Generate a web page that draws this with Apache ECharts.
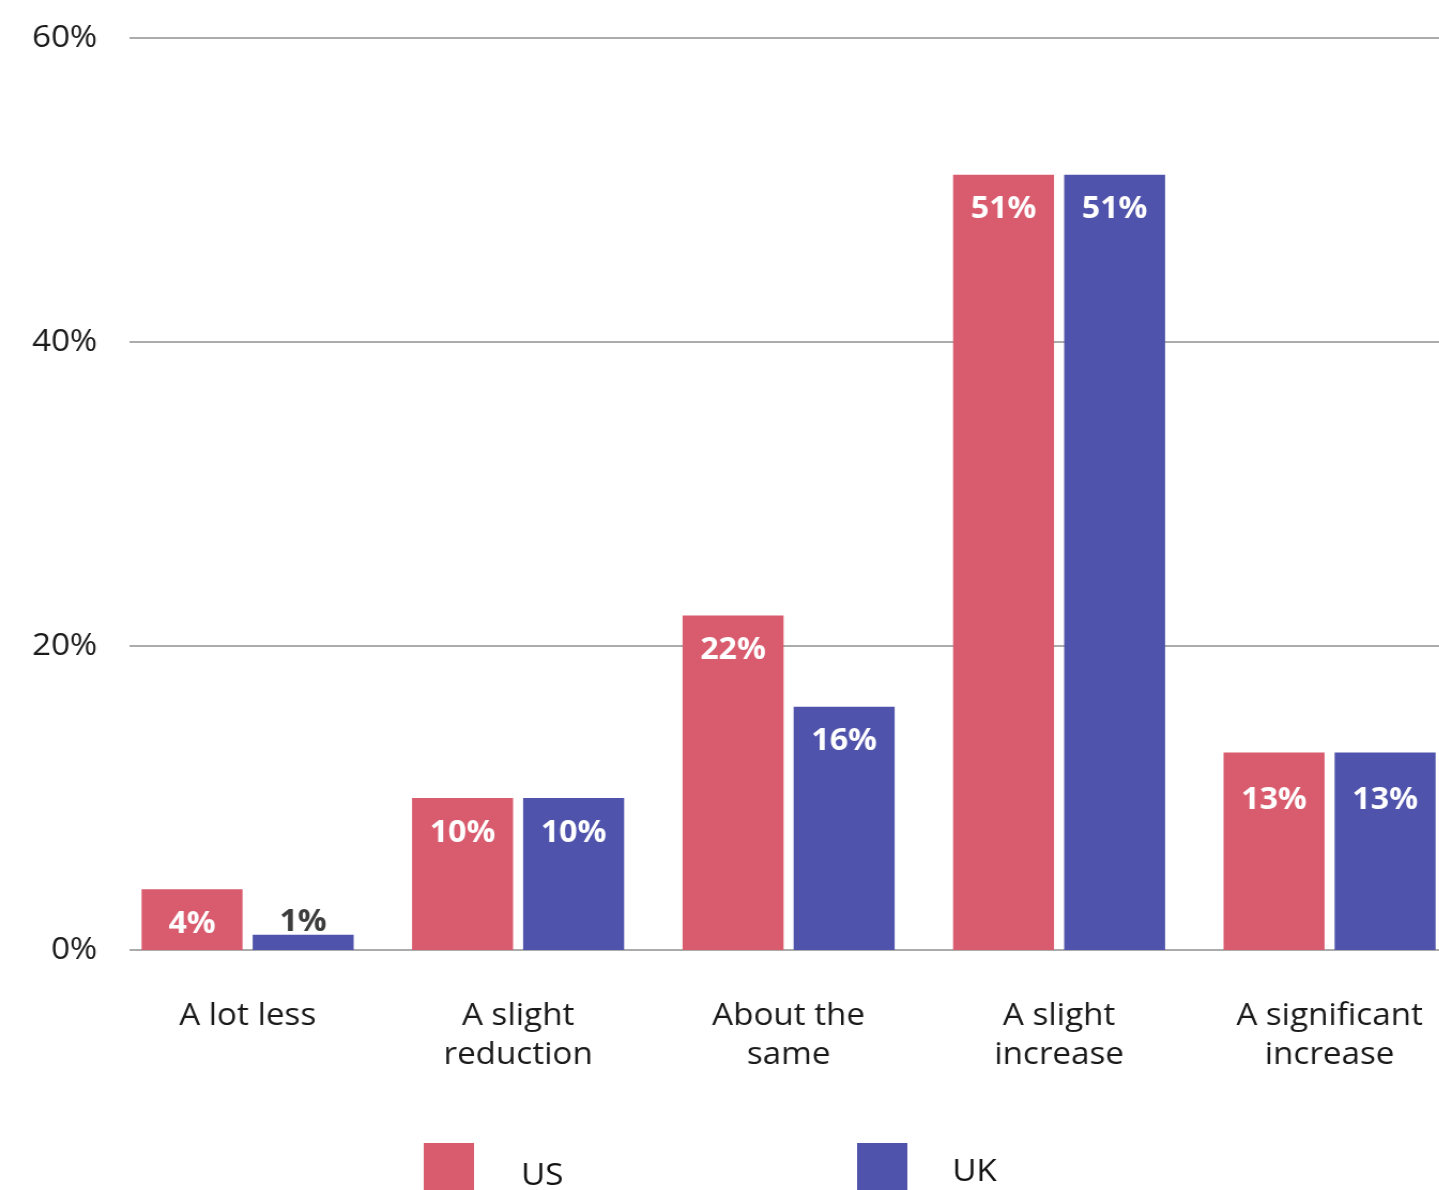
<!DOCTYPE html>
<html>
<head>
<meta charset="utf-8">
<script src="https://cdn.jsdelivr.net/npm/echarts@6/dist/echarts.min.js"></script>
<style>
  html, body { margin: 0; padding: 0; background: #ffffff; overflow: hidden; width: 1439px; height: 1190px; }
  /* the chart is laid out slightly narrower and widened horizontally;
     the plot area and the legend swatches run past the page edges */
  #chart { width: 1400px; height: 1260px; transform: scaleX(1.07); transform-origin: 0 0; }
</style>
</head>
<body>
<div id="chart"></div>
<script>
// Survey answers by category, share of respondents (%)
const categories = ['A lot less', 'A slight\nreduction', 'About the\nsame', 'A slight\nincrease', 'A significant\nincrease'];
const usValues = [4, 10, 22, 51, 13];
const ukValues = [1, 10, 16, 51, 13];
const seriesNames = ['US', 'UK'];
const yMin = 0, yMax = 60, yStep = 20;

const RED = '#D95B6E';
const BLUE = '#4F53AB';
const FONT = '"Open Sans", "Noto Sans", sans-serif';

// Small bars get their label above the bar in dark text;
// the last group's labels sit a little lower inside the bar
function toItems(values) {
  return values.map((v, i) => {
    if (v < 3) {
      return { value: v, label: { position: 'top', color: '#3d3d3d', distance: -3 } };
    }
    if (i === values.length - 1) {
      return { value: v, label: { distance: 33 } };
    }
    return v;
  });
}

const chart = echarts.init(document.getElementById('chart'), null, { renderer: 'canvas' });

const barLabel = {
  show: true,
  position: 'insideTop',
  distance: 20,
  color: '#ffffff',
  fontFamily: FONT,
  fontWeight: 'bold',
  fontSize: 30,
  formatter: p => p.value + '%'
};

function legendText(padLeft) {
  return { fontFamily: FONT, fontSize: 31, lineHeight: 30, color: '#111', padding: [0, 0, 0, padLeft] };
}

chart.setOption({
  animation: false,
  backgroundColor: '#ffffff',
  grid: [
    // bars and category labels
    { left: 105, width: 1264, top: 38, height: 912 },
    // percentage scale and gridlines
    { left: 121, right: 0, top: 38, height: 912 }
  ],
  legend: [
    {
      data: [seriesNames[0]], left: 396, top: 1143, padding: 0, itemWidth: 47, itemHeight: 66,
      icon: 'rect', textStyle: legendText(39)
    },
    {
      data: [seriesNames[1]], left: 801, top: 1143, padding: 0, itemWidth: 47, itemHeight: 58,
      icon: 'rect', textStyle: legendText(37)
    }
  ],
  xAxis: [
    {
      type: 'category', gridIndex: 0, data: categories,
      axisLine: { show: false }, axisTick: { show: false },
      axisLabel: {
        margin: 47, interval: 0, fontFamily: FONT, fontSize: 31,
        lineHeight: 39, color: '#1a1a1a'
      }
    },
    { type: 'value', gridIndex: 1, show: false, min: 0, max: 1 }
  ],
  yAxis: [
    { type: 'value', gridIndex: 0, min: yMin, max: yMax, interval: yStep, show: false },
    {
      type: 'value', gridIndex: 1, min: yMin, max: yMax, interval: yStep,
      axisLine: { show: false }, axisTick: { show: false },
      splitLine: { show: true, lineStyle: { color: '#8f8f8f', width: 1.5 } },
      axisLabel: {
        margin: 30, fontFamily: FONT, fontSize: 31, color: '#1a1a1a',
        formatter: v => v + '%'
      }
    }
  ],
  series: [
    {
      name: seriesNames[0], type: 'bar', xAxisIndex: 0, yAxisIndex: 0,
      data: toItems(usValues), itemStyle: { color: RED },
      barGap: '10%', barCategoryGap: '21.6%', label: barLabel, z: 3
    },
    {
      name: seriesNames[1], type: 'bar', xAxisIndex: 0, yAxisIndex: 0,
      data: toItems(ukValues), itemStyle: { color: BLUE },
      barGap: '10%', barCategoryGap: '21.6%', label: barLabel, z: 3
    }
  ]
});
</script>
</body>
</html>
